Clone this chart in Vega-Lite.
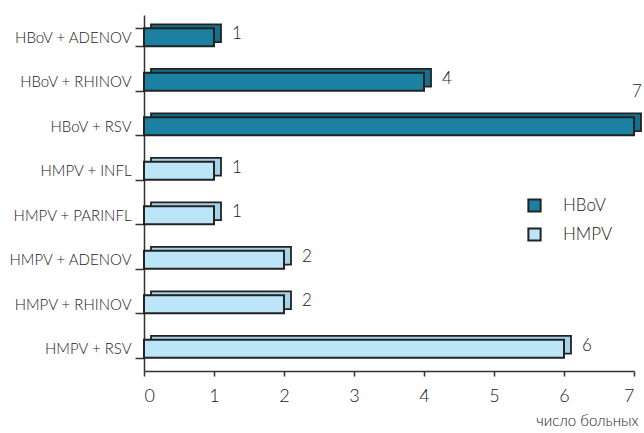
{
  "$schema": "https://vega.github.io/schema/vega-lite/v6.json",
  "width": 490,
  "height": 356,
  "autosize": {"type": "none"},
  "padding": {"left": 144, "top": 15, "right": 10, "bottom": 62},
  "background": "white",
  "config": {
    "view": {"stroke": null},
    "font": "Lato",
    "axis": {"labelFont": "Lato", "titleFont": "Lato", "domainColor": "#333", "tickColor": "#333", "labelColor": "#1a1a1a", "titleColor": "#1a1a1a", "grid": false, "domainWidth": 1.5, "tickWidth": 1.5}
  },
  "data": {
    "values": [
      {"combo": "HBoV + ADENOV", "virus": "HBoV", "n": 1},
      {"combo": "HBoV + RHINOV", "virus": "HBoV", "n": 4},
      {"combo": "HBoV + RSV", "virus": "HBoV", "n": 7},
      {"combo": "HMPV + INFL", "virus": "HMPV", "n": 1},
      {"combo": "HMPV + PARINFL", "virus": "HMPV", "n": 1},
      {"combo": "HMPV + ADENOV", "virus": "HMPV", "n": 2},
      {"combo": "HMPV + RHINOV", "virus": "HMPV", "n": 2},
      {"combo": "HMPV + RSV", "virus": "HMPV", "n": 6}
    ]
  },
  "encoding": {
    "y": {
      "field": "combo", "type": "nominal", "sort": null,
      "scale": {"paddingInner": 0.6, "paddingOuter": 0.3},
      "axis": {"title": null, "tickBand": "extent", "tickSize": 9, "labelPadding": 4, "labelFontSize": 15, "labelFontWeight": 300, "labelLimit": 200}
    },
    "x": {
      "field": "n", "type": "quantitative",
      "scale": {"domain": [0, 7], "nice": false},
      "axis": {"values": [0,1,2,3,4,5,6,7], "tickSize": 5, "labelPadding": 11, "labelFontSize": 18, "labelFontWeight": 300, "title": "число больных", "titleFontSize": 15, "titleFontWeight": 300, "titleAnchor": "end", "titleAlign": "right", "titlePadding": 8, "titleX": 494}
    }
  },
  "layer": [
    {
      "mark": {"type": "bar", "xOffset": 7, "yOffset": -4, "stroke": "#222", "strokeWidth": 1.8},
      "encoding": {
        "color": {"field": "virus", "type": "nominal", "scale": {"domain": ["HBoV", "HMPV"], "range": ["#16708c", "#a4d2e6"]}, "legend": null}
      }
    },
    {
      "mark": {"type": "bar", "stroke": "#222", "strokeWidth": 2},
      "encoding": {
        "color": {"field": "virus", "type": "nominal", "scale": {"domain": ["HBoV", "HMPV"], "range": ["#1b80a1", "#bde5f8"]},
          "legend": {"title": null, "orient": "none", "legendX": 382, "legendY": 182, "symbolType": "square", "symbolSize": 150, "symbolStrokeColor": "#222", "symbolStrokeWidth": 2, "labelFontSize": 17, "labelFontWeight": 300, "labelOffset": 20, "rowPadding": 8, "labelColor": "#1a1a1a", "labelFont": "Lato"}}
      }
    },
    {
      "transform": [{"filter": "datum.n < 7"}],
      "mark": {"type": "text", "align": "left", "dx": 18, "dy": -3, "fontSize": 17, "fontWeight": 300, "color": "#1a1a1a"},
      "encoding": {"text": {"field": "n"}}
    },
    {
      "transform": [{"filter": "datum.n == 7"}],
      "mark": {"type": "text", "align": "center", "dx": 3, "dy": -34, "fontSize": 17, "fontWeight": 300, "color": "#1a1a1a"},
      "encoding": {"text": {"field": "n"}}
    }
  ],
  "resolve": {"scale": {"color": "independent"}}
}
